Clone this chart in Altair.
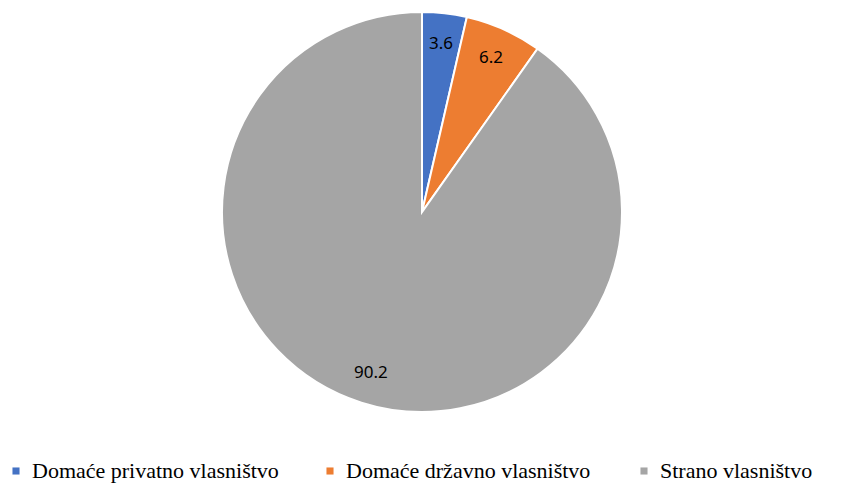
import altair as alt
import pandas as pd

categories = ["Domaće privatno vlasništvo", "Domaće državno vlasništvo", "Strano vlasništvo"]
values = [3.6, 6.2, 90.2]
labels = ["3.6", "6.2", "90.2"]
colors = ["#4472C4", "#ED7D31", "#A5A5A5"]

df = pd.DataFrame({"cat": categories, "val": values, "lab": labels, "ord": [0, 1, 2]})

base = alt.Chart(df).encode(
    theta=alt.Theta("val:Q", stack=True),
    order=alt.Order("ord:Q"),
    x=alt.value(414),
    y=alt.value(203),
)

pie = base.mark_arc(outerRadius=200, stroke="white", strokeWidth=2).encode(
    color=alt.Color(
        "cat:N",
        sort=categories,
        scale=alt.Scale(domain=categories, range=colors),
        legend=alt.Legend(
            title=None,
            orient="none",
            legendX=-3,
            legendY=451,
            direction="horizontal",
            gridAlign="all",
            symbolType="square",
            symbolSize=50,
            symbolStrokeWidth=0,
            labelFont="Liberation Serif",
            labelFontSize=22,
            labelColor="#000000",
            columnPadding=40,
            labelOffset=5,
            labelLimit=400,
        ),
    )
)

text = base.mark_text(radius=169, font="Noto Sans", fontSize=17, color="#000000").encode(
    text="lab:N"
)

chart = (
    (pie + text)
    .properties(width=830, height=478, autosize=alt.AutoSizeParams(type="fit", contains="padding"), padding=0)
    .configure_view(stroke=None)
)

chart.save("out.html", embed_options={"renderer": "svg", "actions": False})
